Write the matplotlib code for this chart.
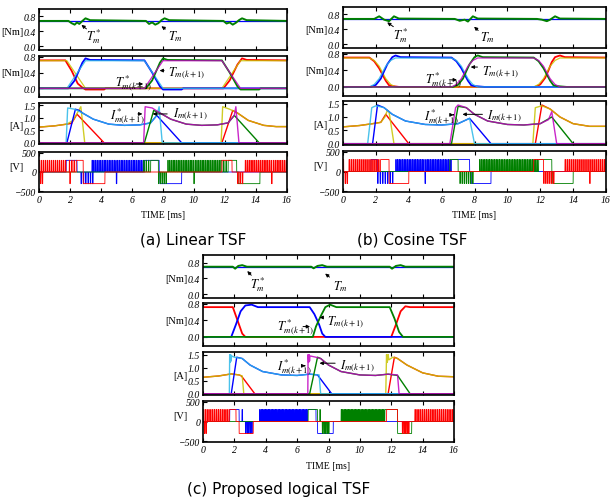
import numpy as np
import matplotlib
matplotlib.use("Agg")
import matplotlib.pyplot as plt
from matplotlib.transforms import blended_transform_factory, ScaledTranslation

plt.rcParams["mathtext.fontset"] = "stix"
SERIF = "Liberation Serif"

W, H = 611, 502
RED, BLUE, GREEN = "#ff0000", "#0000ff", "#008000"
CYAN, MAG, YEL = "#2ab8e8", "#c000c0", "#c8c400"
VDC = 300
PULSE_W = 0.04  # ms, width of one chopping pulse

TIME_TICKS = [0, 2, 4, 6, 8, 10, 12, 14, 16]
TQ_TICKS = [0.0, 0.4, 0.8]
I_TICKS = [0.0, 0.5, 1.0, 1.5]
V_TICKS = [-500, 0, 500]

# ---------------- (a) Linear TSF ----------------
LIN_TSTAR = 0.68
LIN_TM = [(0, 0.68), (1.9, 0.68), (2.1, 0.62), (2.3, 0.58), (2.45, 0.64), (2.6, 0.6), (2.8, 0.68),
          (3.0, 0.75), (3.3, 0.7), (6.9, 0.68), (7.1, 0.6), (7.3, 0.64), (7.5, 0.58), (7.7, 0.62),
          (7.9, 0.7), (8.1, 0.75), (8.4, 0.7), (11.9, 0.68), (12.1, 0.61), (12.3, 0.64), (12.5, 0.58),
          (12.7, 0.63), (12.9, 0.7), (13.1, 0.75), (13.4, 0.7), (16, 0.68)]
LIN_TA_REF = [(0, 0.7), (1.8, 0.7), (3.0, 0), (11.8, 0), (13.0, 0.7), (16, 0.7)]
LIN_TA = [(0, 0.71), (1.7, 0.71), (2.1, 0.45), (2.5, 0.12), (2.8, 0.02), (3.0, -0.03), (4.2, -0.03),
          (4.3, 0), (11.9, 0), (12.3, 0.2), (12.8, 0.6), (13.1, 0.76), (13.4, 0.72), (16, 0.71)]
LIN_TB_REF = [(0, 0), (1.8, 0), (3.0, 0.7), (6.8, 0.7), (8.0, 0), (16, 0)]
LIN_TB = [(0, 0), (1.9, 0), (2.3, 0.2), (2.8, 0.65), (3.0, 0.76), (3.3, 0.72), (6.8, 0.71), (7.3, 0.4),
          (7.8, 0.05), (8.0, -0.03), (9.2, -0.03), (9.3, 0), (16, 0)]
LIN_TC_REF = [(0, 0), (6.8, 0), (8.0, 0.7), (11.8, 0.7), (13.0, 0), (16, 0)]
LIN_TC = [(0, 0), (6.9, 0), (7.3, 0.2), (7.8, 0.65), (8.0, 0.76), (8.3, 0.72), (11.8, 0.71), (12.3, 0.4),
          (12.8, 0.05), (13.0, -0.03), (14.2, -0.03), (14.3, 0), (16, 0)]
LIN_IA_REF = [(0, 0.63), (1.0, 0.68), (1.8, 0.75), (2.2, 0.9), (2.7, 1.45), (2.95, 0), (11.75, 0),
              (11.85, 1.45), (12.3, 1.35), (12.8, 1.2), (13.5, 0.9), (14.5, 0.7), (15.3, 0.65), (16, 0.65)]
LIN_IA = [(0, 0.63), (1.0, 0.68), (1.8, 0.75), (2.1, 0.78), (2.45, 1.15), (4.2, 0), (11.8, 0),
          (12.5, 1.3), (12.8, 1.2), (13.5, 0.9), (14.5, 0.7), (15.3, 0.65), (16, 0.65)]
LIN_IB_REF = [(0, 0), (1.75, 0), (1.85, 1.4), (2.3, 1.35), (2.8, 1.2), (3.5, 0.95), (4.5, 0.75),
              (5.5, 0.7), (6.5, 0.72), (7.2, 0.8), (7.6, 1.1), (7.75, 1.45), (7.95, 0), (16, 0)]
LIN_IB = [(0, 0), (1.8, 0), (2.35, 1.35), (2.6, 1.3), (2.8, 1.2), (3.5, 0.95), (4.5, 0.75), (5.5, 0.7),
          (6.5, 0.72), (7.2, 0.8), (7.6, 1.1), (9.2, 0), (16, 0)]
LIN_IC_REF = [(0, 0), (6.75, 0), (6.85, 1.45), (7.3, 1.4), (7.8, 1.2), (8.5, 0.95), (9.5, 0.75),
              (10.5, 0.7), (11.5, 0.72), (12.2, 0.8), (12.6, 1.1), (12.7, 1.45), (12.9, 0), (16, 0)]
LIN_IC = [(0, 0), (6.8, 0), (7.4, 1.3), (7.6, 1.25), (7.8, 1.2), (8.5, 0.95), (9.5, 0.75), (10.5, 0.7),
          (11.5, 0.72), (12.2, 0.8), (12.6, 1.1), (14.2, 0), (16, 0)]
# voltage: solid +V, solid -V, chopping +V (t0, t1, period), chopping -V
LIN_VA = dict(high=[(2.4, 2.85), (11.8, 12.45)],
              low=[(0.08, 0.12), (0.2, 0.24), (1.98, 2.02), (2.85, 4.25), (12.8, 12.85), (12.95, 13.0),
                   (13.1, 13.15), (15.0, 15.04)],
              chop=[(0, 1.8, 0.13), (1.95, 2.4, 0.15), (13.3, 16, 0.12)], negchop=[])
LIN_VB = dict(high=[(1.75, 2.45), (6.8, 7.75)], low=[(4.98, 5.02), (7.8, 9.2)],
              chop=[(3.3, 6.8, 0.11)], negchop=[(2.7, 3.6, 0.15)])
LIN_VC = dict(high=[(7.2, 7.7), (12.2, 12.75)], low=[(9.98, 10.02), (12.85, 14.25)],
              chop=[(6.75, 7.2, 0.15), (8.3, 11.75, 0.11), (11.75, 12.2, 0.15)], negchop=[(7.7, 8.2, 0.12)])

# ---------------- (b) Cosine TSF ----------------
COS_TSTAR = 0.68
COS_TM = [(0, 0.68), (1.9, 0.68), (2.2, 0.75), (2.5, 0.66), (2.8, 0.62), (3.1, 0.75), (3.4, 0.69),
          (6.8, 0.68), (7.1, 0.63), (7.4, 0.66), (7.6, 0.61), (7.9, 0.75), (8.2, 0.69), (11.8, 0.68),
          (12.1, 0.66), (12.4, 0.62), (12.6, 0.66), (12.9, 0.75), (13.2, 0.69), (16, 0.68)]
COS_TA_REF = [(0, 0.7), (1.6, 0.7), (1.9, 0.64), (2.2, 0.5), (2.4, 0.35), (2.6, 0.2), (2.9, 0.06),
              (3.2, 0), (11.6, 0), (11.9, 0.06), (12.2, 0.2), (12.4, 0.35), (12.6, 0.5), (12.9, 0.64),
              (13.2, 0.7), (16, 0.7)]
COS_TA = [(0, 0.71), (1.6, 0.71), (1.9, 0.62), (2.2, 0.45), (2.4, 0.3), (2.6, 0.15), (2.8, 0.04),
          (3.0, 0.02), (3.4, 0), (11.7, 0), (12.0, 0.06), (12.3, 0.22), (12.5, 0.4), (12.7, 0.6),
          (12.9, 0.72), (13.2, 0.76), (13.5, 0.72), (16, 0.71)]
COS_TB_REF = [(0, 0), (1.6, 0), (1.9, 0.06), (2.2, 0.2), (2.4, 0.35), (2.6, 0.5), (2.9, 0.64), (3.2, 0.7),
              (6.6, 0.7), (6.9, 0.64), (7.2, 0.5), (7.4, 0.35), (7.6, 0.2), (7.9, 0.06), (8.2, 0), (16, 0)]
COS_TB = [(0, 0), (1.7, 0), (2.0, 0.05), (2.3, 0.2), (2.5, 0.38), (2.7, 0.55), (3.0, 0.72), (3.2, 0.76),
          (3.5, 0.72), (6.6, 0.71), (6.9, 0.62), (7.2, 0.45), (7.4, 0.3), (7.6, 0.15), (7.8, 0.04),
          (8.0, 0.02), (8.6, 0), (16, 0)]
COS_TC_REF = [(0, 0), (6.6, 0), (6.9, 0.06), (7.2, 0.2), (7.4, 0.35), (7.6, 0.5), (7.9, 0.64), (8.2, 0.7),
              (11.6, 0.7), (11.9, 0.64), (12.2, 0.5), (12.4, 0.35), (12.6, 0.2), (12.9, 0.06), (13.2, 0),
              (16, 0)]
COS_TC = [(0, 0), (6.7, 0), (7.0, 0.05), (7.3, 0.2), (7.5, 0.38), (7.7, 0.55), (8.0, 0.72), (8.2, 0.76),
          (8.5, 0.72), (11.6, 0.71), (11.9, 0.62), (12.2, 0.45), (12.4, 0.3), (12.6, 0.15), (12.8, 0.04),
          (13.0, 0.02), (13.6, 0), (16, 0)]
COS_IA_REF = [(0, 0.63), (1.0, 0.68), (1.8, 0.75), (2.3, 0.8), (2.55, 1.0), (2.7, 1.25), (2.8, 1.2),
              (3.1, 0), (11.55, 0), (11.7, 1.35), (12.1, 1.42), (12.6, 1.3), (13.2, 1.0), (14, 0.75),
              (15, 0.65), (16, 0.65)]
COS_IA = [(0, 0.63), (1.0, 0.68), (1.8, 0.75), (2.3, 0.8), (2.6, 1.1), (4.0, 0), (11.7, 0), (12.1, 1.45),
          (12.6, 1.3), (13.2, 1.0), (14, 0.75), (15, 0.65), (16, 0.65)]
COS_IB_REF = [(0, 0), (1.5, 0), (1.75, 1.35), (2.0, 1.42), (2.5, 1.35), (3.0, 1.1), (3.8, 0.85),
              (5.0, 0.72), (6.0, 0.7), (7.0, 0.75), (7.7, 0.95), (8.0, 0), (16, 0)]
COS_IB = [(0, 0), (1.8, 0), (2.1, 1.45), (2.5, 1.35), (3.0, 1.1), (3.8, 0.85), (5.0, 0.72), (6.0, 0.7),
          (7.0, 0.75), (7.7, 0.95), (9.0, 0), (16, 0)]
COS_IC_REF = [(0, 0), (6.5, 0), (6.85, 1.35), (7.0, 1.45), (7.5, 1.35), (8.0, 1.1), (8.8, 0.85),
              (10.0, 0.72), (11.0, 0.7), (12.0, 0.75), (12.5, 0.9), (12.7, 1.2), (13.0, 0), (16, 0)]
COS_IC = [(0, 0), (6.6, 0), (7.0, 1.4), (7.5, 1.35), (8.0, 1.1), (8.8, 0.85), (10.0, 0.72), (11.0, 0.7),
          (12.0, 0.75), (12.7, 1.0), (14.0, 0), (16, 0)]
COS_VA = dict(high=[(2.3, 2.8), (11.6, 12.2)],
              low=[(0.12, 0.16), (0.24, 0.28), (2.8, 4.0), (15.0, 15.04)],
              chop=[(0, 2.3, 0.12), (13.5, 16, 0.12)], negchop=[(12.2, 12.9, 0.12)])
COS_VB = dict(high=[(1.7, 2.1), (6.6, 7.7)], low=[(4.98, 5.02), (7.8, 9.0)],
              chop=[(2.1, 2.7, 0.15), (3.2, 6.6, 0.1)], negchop=[(2.1, 3.1, 0.15)])
COS_VC = dict(high=[(6.5, 7.0), (11.9, 12.7)], low=[(12.75, 14.0)],
              chop=[(8.3, 11.6, 0.1), (11.6, 11.9, 0.1)], negchop=[(7.1, 8.0, 0.13)])

# ---------------- (c) Proposed logical TSF ----------------
LOG_TSTAR = 0.7
LOG_TM = [(0, 0.7), (1.9, 0.7), (2.05, 0.65), (2.25, 0.72), (2.5, 0.74), (2.8, 0.7), (6.9, 0.7),
          (7.05, 0.66), (7.3, 0.72), (7.6, 0.74), (7.9, 0.7), (11.9, 0.7), (12.05, 0.65), (12.3, 0.72),
          (12.6, 0.74), (12.9, 0.7), (16, 0.7)]
LOG_TA = [(0, 0.72), (1.9, 0.72), (2.2, 0.4), (2.5, 0.08), (2.7, 0), (12.0, 0), (12.3, 0.3),
          (12.6, 0.62), (12.9, 0.74), (13.2, 0.72), (16, 0.72)]
LOG_TB = [(0, 0), (1.8, 0), (2.1, 0.3), (2.4, 0.62), (2.7, 0.76), (3.1, 0.78), (3.5, 0.72), (6.8, 0.72),
          (7.1, 0.55), (7.4, 0.3), (7.6, 0.08), (7.8, 0), (16, 0)]
LOG_TC = [(0, 0), (7.0, 0), (7.2, 0.25), (7.5, 0.5), (7.8, 0.72), (8.1, 0.78), (8.5, 0.72), (11.9, 0.72),
          (12.2, 0.45), (12.5, 0.12), (12.75, 0), (16, 0)]
LOG_IA_REF = [(0, 0.63), (1.0, 0.68), (1.8, 0.76), (2.3, 0.72), (2.5, 0.68), (2.6, 0), (11.65, 0),
              (11.7, 1.5), (11.75, 1.2), (11.8, 1.5), (11.85, 1.3), (12.1, 1.4), (12.4, 1.35), (13.0, 1.1),
              (14, 0.8), (15, 0.67), (16, 0.65)]
LOG_IA = [(0, 0.63), (1.0, 0.68), (1.8, 0.76), (2.3, 0.72), (2.45, 0.68), (3.3, 0), (11.8, 0),
          (12.2, 1.4), (12.4, 1.35), (13, 1.1), (14, 0.8), (15, 0.67), (16, 0.65)]
LOG_IB_REF = [(0, 0), (1.68, 0), (1.7, 1.5), (1.73, 1.2), (1.76, 1.5), (1.79, 1.25), (1.82, 1.45),
              (2.0, 1.4), (2.5, 1.35), (3.0, 1.1), (3.8, 0.85), (5, 0.72), (6, 0.7), (6.8, 0.75),
              (7.4, 0.72), (7.5, 0), (16, 0)]
LOG_IB = [(0, 0), (1.8, 0), (2.15, 1.4), (2.5, 1.35), (3.0, 1.1), (3.8, 0.85), (5, 0.72), (6, 0.7),
          (6.8, 0.75), (7.3, 0.72), (8.2, 0), (16, 0)]
LOG_IC_REF = [(0, 0), (6.68, 0), (6.7, 1.5), (6.73, 1.2), (6.76, 1.5), (6.79, 1.25), (6.82, 1.45),
              (7.2, 1.4), (7.5, 1.35), (8.0, 1.1), (8.8, 0.85), (10, 0.72), (11, 0.7), (11.8, 0.75),
              (12.4, 0.72), (12.5, 0), (16, 0)]
LOG_IC = [(0, 0), (6.8, 0), (7.3, 1.4), (7.5, 1.35), (8.0, 1.1), (8.8, 0.85), (10, 0.72), (11, 0.7),
          (11.8, 0.75), (12.4, 0.7), (13.2, 0), (16, 0)]
LOG_VA = dict(high=[(1.7, 2.1), (11.7, 12.4)], low=[(0.08, 0.12), (0.18, 0.22), (2.3, 3.2)],
              chop=[(0, 1.7, 0.12), (13.5, 16, 0.12)], negchop=[(12.7, 13.1, 0.1)])
LOG_VB = dict(high=[(1.7, 2.3), (2.48, 2.52), (6.7, 7.2)], low=[(7.3, 8.3)],
              chop=[(3.6, 6.7, 0.09)], negchop=[(2.7, 3.2, 0.1)])
LOG_VC = dict(high=[(6.7, 7.3), (7.44, 7.48), (11.6, 12.4)], low=[(12.4, 13.3)],
              chop=[(8.8, 11.6, 0.09)], negchop=[(7.6, 8.1, 0.1)])


def xy(pts):
    return [p[0] for p in pts], [p[1] for p in pts]


def voltage(spec):
    t = np.linspace(0, 16, 32001)
    v = np.zeros_like(t)
    for t0, t1, p in spec["chop"]:
        for s in np.arange(t0, t1, p):
            v[(t >= s) & (t < s + PULSE_W)] = VDC
    for t0, t1, p in spec["negchop"]:
        for s in np.arange(t0, t1, p):
            v[(t >= s) & (t < s + PULSE_W)] = -VDC
    for t0, t1 in spec["high"]:
        v[(t >= t0) & (t < t1)] = VDC
    for t0, t1 in spec["low"]:
        v[(t >= t0) & (t < t1)] = -VDC
    return t, v


fig = plt.figure(figsize=(W / 100, H / 100), dpi=100)


def style(ax, ylim, yticks, ylabel, ylab_y, bottom):
    ax.set_xlim(0, 16)
    ax.set_ylim(*ylim)
    ax.set_xticks(TIME_TICKS)
    ax.set_yticks(yticks)
    if isinstance(yticks[0], float):
        ax.set_yticklabels([f"{v:.1f}" for v in yticks])
    ax.tick_params(direction="in", length=3, width=0.8, top=True, pad=2, labelsize=7)
    for lab in ax.get_yticklabels() + ax.get_xticklabels():
        lab.set_fontfamily(SERIF)
        lab.set_fontstyle("italic")
    if not bottom:
        ax.set_xticklabels([])
    for s in ax.spines.values():
        s.set_linewidth(1.2)
    tr = blended_transform_factory(ax.transAxes, ax.transData) + \
        ScaledTranslation(-15 / 100, 0, fig.dpi_scale_trans)
    ax.text(0, ylab_y, ylabel, transform=tr, ha="right", va="center", fontsize=7.5, family=SERIF)


def panel(left, right, rows, tstar, tm, tq, cur, volts, ann, time_y, caption, cap_xy):
    axs = []
    for yt, yb in rows:
        axs.append(fig.add_axes([left / W, 1 - yb / H, (right - left) / W, (yb - yt) / H]))
    a1, a2, a3, a4 = axs
    lw = 0.9
    # total torque
    a1.plot([0, 16], [tstar, tstar], color=BLUE, lw=lw)
    a1.plot(*xy(tm), color=GREEN, lw=1.4)
    style(a1, (-0.1, 1.0), TQ_TICKS, "[Nm]", 0.4, False)
    # phase torques
    (ta_r, ta), (tb_r, tb), (tc_r, tc) = tq
    for ref, act, cr, ca in ((ta_r, ta, YEL, RED), (tb_r, tb, CYAN, BLUE), (tc_r, tc, MAG, GREEN)):
        a2.plot(*xy(act), color=ca, lw=1.3)
        if ref is not None:
            a2.plot(*xy(ref), color=cr, lw=lw, alpha=0.85)
    style(a2, (-0.22, 0.82), TQ_TICKS, "[Nm]", 0.4, False)
    # currents
    for ref, act, cr, ca in cur:
        a3.plot(*xy(act), color=ca, lw=1.0)
        a3.plot(*xy(ref), color=cr, lw=1.0, alpha=0.85)
    style(a3, (-0.05, 1.6), I_TICKS, "[A]", 0.7, False)
    # voltages
    for spec, c in volts:
        a4.plot(*voltage(spec), color=c, lw=0.6)
    style(a4, (-515, 515), V_TICKS, "[V]", 150, True)
    # annotations
    for ax, (txt, tx, ty, ha, x0, y0, x1, y1) in zip((a1, a1, a2, a2, a3, a3), ann):
        ax.annotate("", xy=(x1, y1), xytext=(x0, y0),
                    arrowprops=dict(arrowstyle="-|>", color="black", lw=0.7, mutation_scale=5))
        ax.text(tx, ty, txt, ha=ha, va="center", fontsize=9)
    fig.text((left + right) / 2 / W, 1 - time_y / H, "TIME [ms]", ha="center", va="center",
             fontsize=7, family=SERIF)
    fig.text(cap_xy[0] / W, 1 - cap_xy[1] / H, caption, ha="center", va="center", fontsize=11,
             family="DejaVu Sans")


ANN_A = [(r"$T_m^*$", 3.5, 0.28, "center", 3.2, 0.42, 2.6, 0.62),
         (r"$T_m$", 8.8, 0.28, "center", 8.3, 0.42, 7.75, 0.58),
         (r"$T_{m(k+1)}^*$", 4.9, 0.15, "left", 6.1, 0.11, 6.9, 0.11),
         (r"$T_{m(k+1)}$", 8.3, 0.4, "left", 8.25, 0.45, 7.6, 0.45),
         (r"$I_{m(k+1)}^*$", 4.6, 1.12, "left", 6.2, 1.16, 6.85, 1.16),
         (r"$I_{m(k+1)}$", 8.65, 1.2, "left", 8.45, 1.16, 7.15, 1.16)]
ANN_B = [(r"$T_m^*$", 3.5, 0.26, "center", 3.2, 0.43, 2.55, 0.63),
         (r"$T_m$", 8.8, 0.2, "center", 8.35, 0.32, 7.85, 0.52),
         (r"$T_{m(k+1)}^*$", 5.0, 0.2, "left", 6.3, 0.17, 7.1, 0.17),
         (r"$T_{m(k+1)}$", 8.45, 0.39, "left", 8.35, 0.48, 7.6, 0.48),
         (r"$I_{m(k+1)}^*$", 4.9, 1.05, "left", 6.55, 1.08, 6.9, 1.08),
         (r"$I_{m(k+1)}$", 8.75, 1.08, "left", 8.65, 1.1, 7.1, 1.1)]
ANN_C = [(r"$T_m^*$", 3.5, 0.26, "center", 3.2, 0.43, 2.7, 0.64),
         (r"$T_m$", 8.75, 0.21, "center", 8.2, 0.39, 7.65, 0.57),
         (r"$T_{m(k+1)}^*$", 4.7, 0.26, "left", 6.2, 0.25, 7.0, 0.25),
         (r"$T_{m(k+1)}$", 7.9, 0.39, "left", 7.8, 0.47, 7.25, 0.47),
         (r"$I_{m(k+1)}^*$", 4.7, 1.05, "left", 6.3, 1.07, 6.7, 1.07),
         (r"$I_{m(k+1)}$", 8.75, 1.1, "left", 8.6, 1.17, 7.25, 1.17)]

panel(39, 287, [(10, 51), (57, 98), (104, 145), (153, 193)], LIN_TSTAR, LIN_TM,
      [(LIN_TA_REF, LIN_TA), (LIN_TB_REF, LIN_TB), (LIN_TC_REF, LIN_TC)],
      [(LIN_IA_REF, LIN_IA, YEL, RED), (LIN_IB_REF, LIN_IB, CYAN, BLUE), (LIN_IC_REF, LIN_IC, MAG, GREEN)],
      [(LIN_VB, BLUE), (LIN_VC, GREEN), (LIN_VA, RED)], ANN_A, 216, "(a) Linear TSF", (193, 240))
panel(343, 606, [(8, 49), (54, 97), (102, 146), (152, 193)], COS_TSTAR, COS_TM,
      [(COS_TA_REF, COS_TA), (COS_TB_REF, COS_TB), (COS_TC_REF, COS_TC)],
      [(COS_IA_REF, COS_IA, YEL, RED), (COS_IB_REF, COS_IB, CYAN, BLUE), (COS_IC_REF, COS_IC, MAG, GREEN)],
      [(COS_VB, BLUE), (COS_VC, GREEN), (COS_VA, RED)], ANN_B, 216, "(b) Cosine TSF", (412, 240))
panel(203, 454, [(256, 299), (304, 347), (353, 396), (402, 443)], LOG_TSTAR, LOG_TM,
      [(None, LOG_TA), (None, LOG_TB), (None, LOG_TC)],
      [(LOG_IA_REF, LOG_IA, YEL, RED), (LOG_IB_REF, LOG_IB, CYAN, BLUE), (LOG_IC_REF, LOG_IC, MAG, GREEN)],
      [(LOG_VB, BLUE), (LOG_VC, GREEN), (LOG_VA, RED)], ANN_C, 467, "(c) Proposed logical TSF", (279, 490))

fig.savefig("out.png", dpi=100)
